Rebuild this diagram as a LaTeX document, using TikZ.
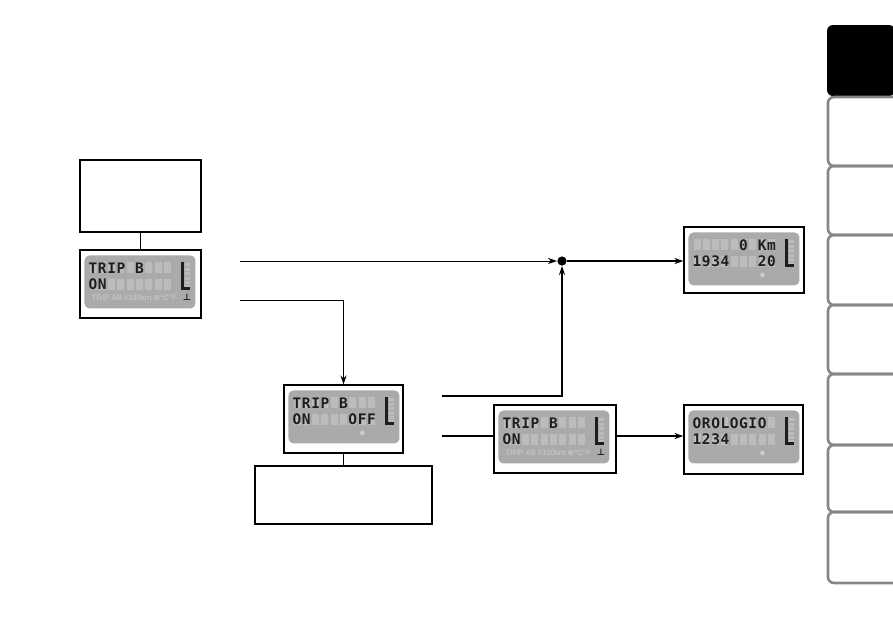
\documentclass[tikz,border=0pt]{standalone}
\usepackage{fontspec}
\usetikzlibrary{arrows.meta,calc}
\newfontfamily\segfont{DejaVu Sans Mono}
\newfontfamily\legendfont{Liberation Sans}
\newfontfamily\symfont{DejaVu Sans}
\definecolor{lcdgrey}{HTML}{AAAAAA}
\definecolor{lcdghost}{HTML}{BCBCBC}
\definecolor{lcdink}{HTML}{1E1E1E}
\definecolor{lcdlegend}{HTML}{CDCDCD}
\definecolor{tabgrey}{HTML}{868686}
\tikzset{
  screen/.style={draw, line width=1.1pt, minimum width=120pt, minimum height=68pt, inner sep=0pt},
  notebox/.style={draw, line width=1.1pt, inner sep=0pt},
  seg/.style={inner sep=0pt, anchor=base, text=lcdink, font=\segfont\bfseries\fontsize{14.5}{15}\selectfont},
  thin/.style={line width=0.9pt},
  thick/.style={line width=2pt},
  tip/.style={-{Stealth[length=9pt,width=6pt]}},
  tabline/.style={draw=tabgrey, line width=2.6pt, rounded corners=6pt}
}
\newcommand{\lcdscreen}[3]{%
  \fill[lcdgrey, rounded corners=5pt] ($(#1.north west)+(5,6)$) rectangle ($(#1.north west)+(116,59)$);
  \foreach \c [count=\i] in {#2} {
    \fill[lcdghost] ($(#1.north west)+(0.8+9.3*\i,13)$) rectangle +(7,11);
    \node[seg] (#1-a\i) at ($(#1.north west)+(4.3+9.3*\i,24)$) {\c};
  }
  \foreach \c [count=\i] in {#3} {
    \fill[lcdghost] ($(#1.north west)+(0.8+9.3*\i,29.5)$) rectangle +(7,11);
    \node[seg] (#1-b\i) at ($(#1.north west)+(4.3+9.3*\i,40.5)$) {\c};
  }
  \foreach \j in {0,...,5} \fill[lcdghost] ($(#1.north west)+(105.5,14+4.4*\j)$) rectangle +(5,3);
  \fill[lcdink] ($(#1.north west)+(101.5,13)$) rectangle ($(#1.north west)+(104.5,41)$);
  \fill[lcdink] ($(#1.north west)+(104.5,37.5)$) rectangle ($(#1.north west)+(110.5,41)$);
}
\newcommand{\triplegend}[1]{%
  \node[inner sep=0pt, anchor=base west, text=lcdlegend, font=\legendfont\fontsize{7.8}{9}\selectfont] (#1-leg) at ($(#1.north west)+(12,51)$) {TRIP AB l/100km {\symfont⊕}°C°F};
  \node[inner sep=0pt, anchor=base, text=lcdink, font=\symfont\bfseries\fontsize{9}{9}\selectfont] (#1-sym) at ($(#1.north west)+(107.5,51)$) {⊥};
}
\newcommand{\lcddot}[1]{%
  \fill[lcdlegend] ($(#1.north west)+(79,48.5)$) circle (2.3pt);
}

\begin{document}
\begin{tikzpicture}[x=1pt, y=-1pt]
  \useasboundingbox (0,0) rectangle (893,630);

  \node[notebox, minimum width=121pt, minimum height=72pt] (note1) at (140.5,196) {};
  \node[screen, minimum width=121pt] (trip1) at (140.5,284) {};
  \node[screen, minimum width=119pt] (trip2) at (343.5,419) {};
  \node[notebox, minimum width=177pt, minimum height=58pt] (note2) at (343.5,495) {};
  \node[screen, minimum width=122pt] (trip3) at (555,439) {};
  \node[screen, minimum height=66pt] (odo) at (744,260) {};
  \node[screen, minimum width=119pt, minimum height=69pt] (clock) at (743.5,439.5) {};
  \fill (562,261) circle (4.6pt) coordinate (join);

  \lcdscreen{trip1}{T,R,I,P,{},B,{},{},{}}{O,N,{},{},{},{},{},{},{}}
  \triplegend{trip1}
  \lcdscreen{trip2}{T,R,I,P,{},B,{},{},{}}{O,N,{},{},{},{},O,F,F}
  \lcddot{trip2}
  \lcdscreen{trip3}{T,R,I,P,{},B,{},{},{}}{O,N,{},{},{},{},{},{},{}}
  \triplegend{trip3}
  \lcdscreen{odo}{{},{},{},{},{},0,{},K,m}{1,9,3,4,{},{},{},2,0}
  \lcddot{odo}
  \lcdscreen{clock}{O,R,O,L,O,G,I,O,{}}{1,2,3,4,{},{},{},{},{}}
  \lcddot{clock}

  \coordinate (go1) at (240,261);
  \coordinate (go2) at (240,300);
  \coordinate (back1) at (442,396);
  \coordinate (back2) at (442,436);

  \draw[thin] (note1.south) -- (trip1.north);
  \draw[thin] (trip2.south) -- (note2.north);
  \draw[thin, tip] (go1) -- ($(join)+(-5,0)$);
  \draw[thin, tip] (go2) -| (trip2.north);
  \draw[thick, tip] (back1) -| ($(join)+(0,5)$);
  \draw[thick] (back2) -- (back2 -| trip3.west);
  \draw[thick, tip] (trip3.east |- back2) -- (clock.west |- back2);
  \draw[thick, tip] ($(join)+(5,0)$) -- (odo.west |- join);

  \fill[black, rounded corners=6pt] (895,25) -- (827,25) -- (827,96) -- (895,96) -- cycle;
  \foreach \t/\b in {97/166,166/235,235/305,305/374,374/445,445/512,512/583}
    \draw[tabline] (895,\t) -- (828,\t) -- (828,\b) -- (895,\b);
\end{tikzpicture}
\end{document}
